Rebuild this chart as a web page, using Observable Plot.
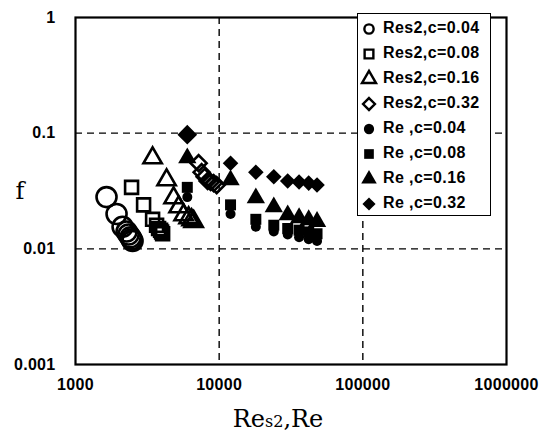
<!DOCTYPE html>
<html>
<head>
<meta charset="utf-8">
<script src="https://cdn.jsdelivr.net/npm/d3@7"></script>
<script src="https://cdn.jsdelivr.net/npm/@observablehq/plot@0.6"></script>
<style>
  html, body { margin: 0; padding: 0; background: #fff; }
  #wrap { position: relative; width: 553px; height: 437px; }
  #legend { position: absolute; left: 357px; top: 13px; width: 134px; height: 203px;
            border: 1px solid #000; background: #fff; box-sizing: border-box;
            font: bold 16px "Liberation Sans", Arial, sans-serif; letter-spacing: 0.4px; color: #000; }
  .row { position: absolute; left: 0; height: 25px; display: flex; align-items: center; white-space: pre; }
  .row svg { width: 22px; height: 25px; }
</style>
</head>
<body>
<div id="wrap"><div id="legend"></div></div>
<script>
// ---- data ----
const seriesLabels = ["Res2,c=0.04", "Res2,c=0.08", "Res2,c=0.16", "Res2,c=0.32",
                      "Re ,c=0.04", "Re ,c=0.08", "Re ,c=0.16", "Re ,c=0.32"];
const xTicks = [1000, 10000, 100000, 1000000];
const yTicks = [0.001, 0.01, 0.1, 1];
const xGrid = [10000, 100000];
const yGrid = [0.01, 0.1];

// Reynolds numbers (Re) – same for all clearances
const re = [6000, 12000, 18000, 24000, 30000, 36000, 42000, 48000];

// friction factor per clearance
const f004 = [0.028, 0.020, 0.0155, 0.0141, 0.0133, 0.0126, 0.0121, 0.0117];
const f008 = [0.034, 0.024, 0.018, 0.016, 0.015, 0.0145, 0.014, 0.0135];
const f016 = [0.061, 0.0394, 0.0275, 0.023, 0.0196, 0.0185, 0.0178, 0.0172];
const f032 = [0.097, 0.055, 0.046, 0.042, 0.0386, 0.0378, 0.037, 0.0356];

// Res2 per clearance
const res2_004 = [1644, 1931, 2126, 2267, 2341, 2417, 2456, 2496];
const res2_008 = [2456, 2978, 3441, 3668, 3788, 3910, 3975, 4040];
const res2_016 = [3441, 4306, 4818, 5222, 5660, 6129, 6432, 6642];
const res2_032 = [6000, 7197, 7552, 7925, 8316, 8726, 9157, 9608];

// ---- build tables ----
const toRows = (xs, fs) => xs.map((x, i) => ({x, f: fs[i]}));
const open = [
  {data: toRows(res2_004, f004), symbol: "circle",   r: 10},
  {data: toRows(res2_008, f008), symbol: "square",   r: 7.3},
  {data: toRows(res2_016, f016), symbol: "triangle", r: 6.8},
  {data: toRows(res2_032, f032), symbol: "diamond2", r: 7.2}
];
const filled = [
  {data: toRows(re, f004), symbol: "circle",   r: 5},
  {data: toRows(re, f008), symbol: "square",   r: 6.2},
  {data: toRows(re, f016), symbol: "triangle", r: 6.8},
  {data: toRows(re, f032), symbol: "diamond2", r: 7}
];

const marks = [
  Plot.ruleX(xGrid, {stroke: "#000", strokeWidth: 1.4, strokeDasharray: "7,5"}),
  Plot.ruleY(yGrid, {stroke: "#000", strokeWidth: 1.4, strokeDasharray: "7,5"}),
  Plot.axisX({ticks: xTicks, tickSize: 0, tickPadding: 14, tickFormat: d => String(d), label: null}),
  Plot.axisY({ticks: yTicks, tickSize: 0, tickPadding: 20, tickFormat: d => String(d), label: null})
];
open.forEach(s => marks.push(Plot.dot(s.data, {x: "x", y: "f", symbol: () => s.symbol, r: s.r,
  fill: "none", stroke: "#000", strokeWidth: 2.6})));
filled.forEach(s => marks.push(Plot.dot(s.data, {x: "x", y: "f", symbol: () => s.symbol, r: s.r,
  fill: "#000", stroke: "none"})));
marks.push(Plot.frame({stroke: "#000", strokeWidth: 2.2}));

const chart = Plot.plot({
  width: 553, height: 437,
  marginLeft: 75, marginRight: 47, marginTop: 17, marginBottom: 73,
  x: {type: "log", domain: [1000, 1000000]},
  y: {type: "log", domain: [0.001, 1]},
  symbol: {type: "identity"},
  style: {fontFamily: "'Liberation Sans', Arial, sans-serif", fontSize: "16px", fontWeight: "bold",
          letterSpacing: "0.3px", color: "#000", background: "#fff"},
  marks
});
document.getElementById("wrap").prepend(chart);

// axis titles
const svg = d3.select(chart);
svg.append("text").attr("x", 20).attr("y", 192).attr("text-anchor", "middle")
  .attr("dominant-baseline", "middle")
  .style("font-family", "'DejaVu Serif', serif").style("font-size", "24px").style("font-weight", "normal")
  .text("f");
const xt = svg.append("text").attr("x", 278).attr("y", 427).attr("text-anchor", "middle")
  .style("font-family", "'DejaVu Serif', serif").style("font-size", "24px").style("font-weight", "normal")
  .style("letter-spacing", "0px");
xt.append("tspan").text("Re");
xt.append("tspan").attr("font-size", "16px").text("s2");
xt.append("tspan").text(",Re");

// legend
const legendSymbols = ["circle", "square", "triangle", "diamond2", "circle", "square", "triangle", "diamond2"];
const symMap = {circle: d3.symbolCircle, square: d3.symbolSquare, triangle: d3.symbolTriangle, diamond2: d3.symbolDiamond2};
const legSize = {circle: 75, square: 85, triangle: 95, diamond2: 100};
const leg = d3.select("#legend");
seriesLabels.forEach((lab, i) => {
  const row = leg.append("div").attr("class", "row").style("top", (1.5 + 25 * i) + "px");
  const s = row.append("svg");
  const isOpen = i < 4;
  s.append("path")
    .attr("transform", "translate(11,13)")
    .attr("d", d3.symbol(symMap[legendSymbols[i]], legSize[legendSymbols[i]] * (isOpen ? 0.9 : 1.1))())
    .attr("fill", isOpen ? "none" : "#000")
    .attr("stroke", isOpen ? "#000" : "none")
    .attr("stroke-width", 2.4);
  row.append("span").text(lab).style("margin-left", "3px");
});
</script>
</body>
</html>
